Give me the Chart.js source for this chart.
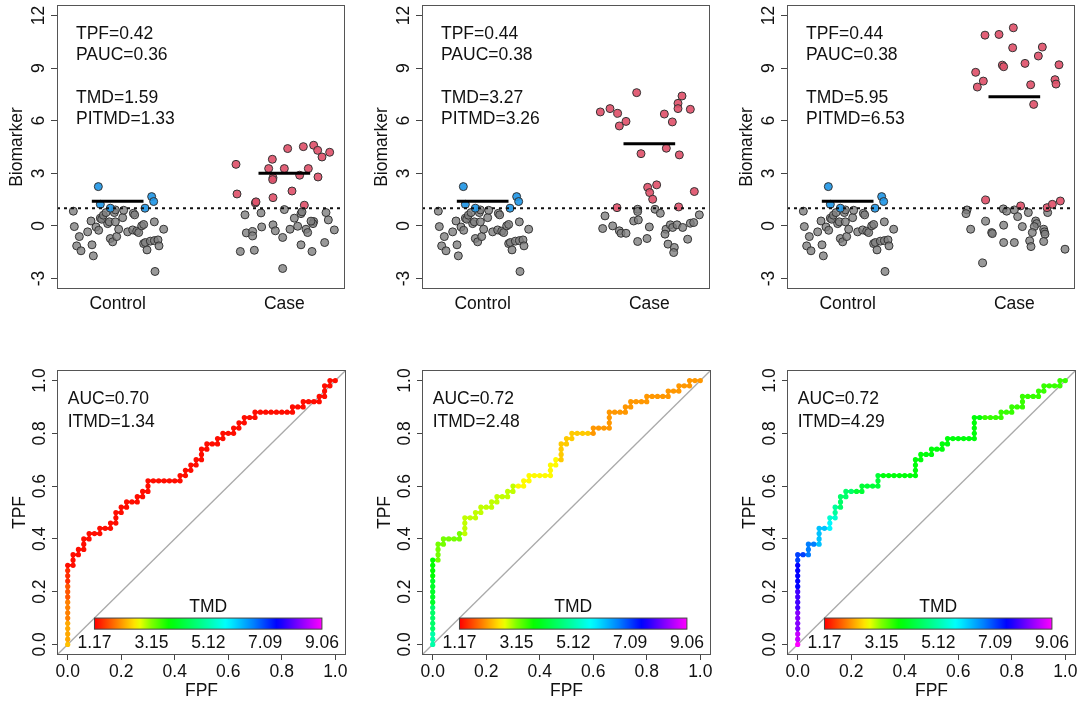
<!DOCTYPE html>
<html>
<head>
<meta charset="utf-8">
<script src="https://cdn.jsdelivr.net/npm/chart.js@4.4.1/dist/chart.umd.min.js"></script>
<style>
  html, body { margin: 0; padding: 0; background: #fff; }
  #wrap { position: relative; width: 1080px; height: 702px; overflow: hidden; background: #fff; }
  #wrap canvas { position: absolute; }
</style>
</head>
<body>
<div id="wrap">
  <canvas id="s1" width="350" height="320" style="left:0;top:0"></canvas>
  <canvas id="s2" width="350" height="320" style="left:365px;top:0"></canvas>
  <canvas id="s3" width="350" height="320" style="left:730px;top:0"></canvas>
  <canvas id="r1" width="350" height="342" style="left:0;top:360px"></canvas>
  <canvas id="r2" width="350" height="342" style="left:365px;top:360px"></canvas>
  <canvas id="r3" width="350" height="342" style="left:730px;top:360px"></canvas>
</div>
<script>
/* ---------- data: strip charts (top row) ---------- */
const groupNames = ['Control', 'Case'];
const groupPos = [1, 2];
const bioTicks = [-3, 0, 3, 6, 9, 12];
const cutoff = 1;
const ctrlMean = 1.41;
const caseMeans = [3.0, 4.69, 7.37];

// control group is the same in all three panels (jittered x, value y)
const ctrlGrayX = [0.734, 0.74, 0.77, 0.754, 0.78, 0.82, 0.84, 0.846, 0.854, 0.87, 0.886, 0.896, 0.904, 0.914, 0.93, 0.94, 0.95, 0.956, 0.97, 0.98, 0.986, 0.986, 0.994, 1.006, 1.03, 1.036, 1.06, 1.09, 1.094, 1.102, 1.114, 1.126, 1.144, 1.156, 1.156, 1.166, 1.176, 1.196, 1.22, 1.224, 1.22, 1.242, 1.248, 1.276];
const ctrlGrayY = [0.84, -0.04, -0.61, -1.14, -1.42, -0.34, 0.28, -1.08, -1.71, -0.06, -0.25, 0.44, 0.38, 0.61, 0.76, 0.13, 0.23, -0.72, -0.91, 0.76, 0.91, 0.23, -0.61, -0.19, 0.47, 0.89, -0.34, -0.23, 0.72, 0.63, -0.30, -0.38, 0.0, 0.08, -1.01, -0.95, -1.37, -0.87, 0.23, -2.60, -0.84, -0.80, -1.14, -0.19];
const ctrlBlueX = [0.884, 0.896, 0.956, 1.164, 1.204, 1.216];
const ctrlBlueY = [2.24, 1.23, 1.01, 1.01, 1.67, 1.39];

const case1RedX = [1.71, 1.716, 1.826, 1.83, 1.928, 1.906, 1.932, 1.93, 1.932, 2.0, 2.02, 2.046, 2.092, 2.114, 2.12, 2.144, 2.176, 2.2, 2.202, 2.226, 2.272];
const case1RedY = [3.51, 1.82, 1.31, 1.37, 3.80, 3.27, 2.75, 2.64, 1.61, 3.27, 4.41, 1.99, 2.89, 4.52, 1.18, 3.27, 4.60, 4.31, 2.79, 3.93, 4.20];
const case1GrayX = [1.764, 1.86, 2.0, 2.10, 2.106, 2.06, 2.25, 2.264, 1.772, 1.81, 1.81, 1.864, 1.932, 1.946, 1.99, 2.034, 2.08, 2.13, 2.14, 2.176, 2.172, 2.30, 1.736, 1.82, 2.10, 2.166, 2.242, 1.99, 2.16];
const case1GrayY = [0.63, 0.74, 0.93, 0.70, 0.80, 0.44, 0.76, 0.34, -0.40, -0.32, -0.57, -0.06, 0.06, -0.28, -0.66, -0.19, -0.02, -0.19, -0.38, 0.25, 0.13, -0.23, -1.46, -1.39, -1.08, -1.46, -0.95, -2.43, 0.27];

const case2RedX = [1.924, 1.706, 1.764, 1.81, 1.82, 1.86, 2.09, 2.138, 2.172, 2.172, 2.196, 2.246, 1.95, 2.102, 2.18, 1.99, 2.002, 2.044, 2.02, 2.27, 1.806, 2.176];
const case2RedY = [7.60, 6.50, 6.69, 6.42, 5.70, 5.96, 6.38, 5.93, 6.99, 6.69, 7.41, 6.65, 4.12, 4.43, 4.05, 2.20, 1.90, 2.34, 1.52, 1.96, 1.04, 1.08];
const case2GrayX = [1.734, 1.72, 1.78, 1.82, 1.83, 1.86, 1.93, 1.93, 1.906, 1.934, 1.93, 1.986, 2.0, 2.034, 2.066, 2.10, 2.094, 2.126, 2.14, 2.166, 2.20, 2.112, 2.15, 2.146, 2.23, 2.246, 2.266, 2.30];
const case2GrayY = [0.57, -0.15, 0.0, -0.28, -0.42, -0.42, 0.95, 0.82, 0.28, 0.34, -0.89, -0.72, -0.06, 0.95, 0.72, -0.19, -0.47, 0.06, -0.09, 0.06, -0.09, -1.04, -1.23, -1.52, -0.76, 0.15, 0.19, 0.63];

const case3RedX = [1.824, 1.908, 1.994, 1.99, 2.168, 2.144, 2.064, 1.928, 1.936, 1.768, 1.814, 1.778, 2.268, 2.098, 2.244, 2.25, 2.116, 1.828, 2.038, 2.196, 2.228, 2.276];
const case3RedY = [10.88, 10.92, 11.30, 10.16, 10.20, 9.69, 9.27, 9.17, 9.08, 8.76, 8.26, 7.92, 9.19, 8.05, 8.34, 8.09, 6.93, 1.48, 1.14, 1.04, 1.23, 1.42];
const case3GrayX = [1.716, 1.71, 1.934, 1.954, 2.0, 2.02, 2.084, 1.828, 1.738, 1.864, 1.868, 1.936, 2.048, 2.128, 2.134, 2.12, 2.108, 2.176, 2.18, 2.184, 1.936, 2.0, 2.092, 2.10, 2.176, 2.20, 2.304, 1.81];
const case3GrayY = [0.91, 0.70, 0.97, 0.84, 0.91, 0.53, 0.76, 0.27, -0.19, -0.38, -0.44, 0.04, -0.04, 0.28, 0.13, -0.04, -0.38, -0.19, -0.34, -0.47, -0.95, -0.95, -0.85, -1.18, -0.89, 0.76, -1.33, -2.11];

const stripNotes = [
  ['TPF=0.42', 'PAUC=0.36', 'TMD=1.59', 'PITMD=1.33'],
  ['TPF=0.44', 'PAUC=0.38', 'TMD=3.27', 'PITMD=3.26'],
  ['TPF=0.44', 'PAUC=0.38', 'TMD=5.95', 'PITMD=6.53']
];

/* ---------- data: ROC curves (bottom row) ---------- */
const rocTicks = [0, 0.2, 0.4, 0.6, 0.8, 1.0];
// TPF reached at each FPF step (FPF = 0, 0.02, ..., 1)
const roc1Tpf = [0.30, 0.34, 0.36, 0.40, 0.42, 0.42, 0.44, 0.44, 0.46, 0.50,
  0.52, 0.54, 0.54, 0.56, 0.58, 0.62, 0.62, 0.62, 0.62, 0.62,
  0.62, 0.64, 0.66, 0.68, 0.70, 0.74, 0.76, 0.76, 0.78, 0.80,
  0.80, 0.82, 0.84, 0.86, 0.86, 0.88, 0.88, 0.88, 0.88, 0.88,
  0.88, 0.88, 0.90, 0.90, 0.92, 0.92, 0.92, 0.94, 0.98, 1.00, 1.00];
const roc2Tpf = [0.32, 0.38, 0.40, 0.40, 0.40, 0.42, 0.48, 0.48, 0.50, 0.52,
  0.52, 0.54, 0.56, 0.56, 0.58, 0.60, 0.60, 0.62, 0.64, 0.64,
  0.64, 0.64, 0.68, 0.70, 0.76, 0.78, 0.80, 0.80, 0.80, 0.80,
  0.82, 0.82, 0.82, 0.88, 0.88, 0.88, 0.90, 0.92, 0.92, 0.92,
  0.94, 0.94, 0.94, 0.94, 0.96, 0.96, 0.98, 0.98, 1.00, 1.00, 1.00];
const roc3Tpf = [0.34, 0.34, 0.38, 0.38, 0.44, 0.44, 0.48, 0.52, 0.56, 0.58,
  0.58, 0.58, 0.60, 0.60, 0.60, 0.64, 0.64, 0.64, 0.64, 0.64,
  0.64, 0.64, 0.70, 0.72, 0.72, 0.74, 0.74, 0.76, 0.78, 0.78,
  0.78, 0.78, 0.78, 0.86, 0.86, 0.86, 0.86, 0.86, 0.88, 0.88,
  0.90, 0.90, 0.94, 0.94, 0.94, 0.96, 0.98, 0.98, 0.98, 1.00, 1.00];
// TMD along each curve, as runs (value, number of points)
const roc1TmdVal = [2.35, 2.2, 1.96, 1.7, 1.45, 1.25];
const roc1TmdLen = [1, 4, 4, 3, 3, 86];
const roc2TmdVal = [5.1, 4.6, 4.1, 3.8, 3.2, 2.9, 2.65, 2.4, 2.1];
const roc2TmdLen = [3, 5, 5, 4, 10, 19, 13, 11, 31];
const roc3TmdVal = [9.06, 8.7, 8.3, 7.9, 7.5, 7.1, 6.7, 6.2, 5.8, 5.4, 5.0, 4.6, 4.2, 3.85, 3.5];
const roc3TmdLen = [1, 2, 4, 4, 5, 3, 4, 5, 2, 2, 2, 6, 8, 30, 23];

const rocNotes = [['AUC=0.70', 'ITMD=1.34'], ['AUC=0.72', 'ITMD=2.48'], ['AUC=0.72', 'ITMD=4.29']];
const cbarLabels = ['1.17', '3.15', '5.12', '7.09', '9.06'];

/* ---------- shared style ---------- */
const FONT = "'Liberation Sans', Arial, Helvetica, sans-serif";
const FS = 17.5;
Chart.defaults.font.family = FONT;
Chart.defaults.font.size = FS;
Chart.defaults.color = '#111';
Chart.defaults.animation = false;
Chart.defaults.events = [];

// rainbow ramp: position along bar -> hue
const rampPos = [0, 0.1, 0.18, 0.25, 0.33, 0.5, 0.6, 0.7, 0.82, 0.9, 1];
const rampHue = [0, 30, 55, 90, 120, 160, 185, 210, 245, 270, 300];
const cbarMin = parseFloat(cbarLabels[0]);
const cbarMax = parseFloat(cbarLabels[cbarLabels.length - 1]);
function hueAt(f) {
  f = Math.max(0, Math.min(1, f));
  for (let i = 1; i < rampPos.length; i++) {
    if (f <= rampPos[i]) {
      const t = (f - rampPos[i - 1]) / (rampPos[i] - rampPos[i - 1]);
      return rampHue[i - 1] + t * (rampHue[i] - rampHue[i - 1]);
    }
  }
  return 300;
}
function tmdColor(v) {
  return 'hsl(' + hueAt((v - cbarMin) / (cbarMax - cbarMin)).toFixed(1) + ',100%,50%)';
}

const boxPlugin = {
  id: 'box',
  afterDraw(chart) {
    const { ctx, chartArea: a } = chart;
    ctx.save();
    ctx.strokeStyle = '#555';
    ctx.lineWidth = 1;
    ctx.strokeRect(Math.round(a.left) + 0.5, Math.round(a.top) + 0.5,
      Math.round(a.right - a.left) - 1, Math.round(a.bottom - a.top) - 1);
    ctx.restore();
  }
};

const notesPlugin = {
  id: 'notes',
  afterDatasetsDraw(chart, args, opts) {
    const { ctx, scales: { x, y } } = chart;
    ctx.save();
    ctx.font = FS + 'px ' + FONT;
    ctx.fillStyle = '#111';
    ctx.textAlign = 'left';
    ctx.textBaseline = 'middle';
    opts.lines.forEach((t, i) => {
      ctx.fillText(t, x.getPixelForValue(opts.x), y.getPixelForValue(opts.ys[i]));
    });
    ctx.restore();
  }
};

const colorbarPlugin = {
  id: 'colorbar',
  afterDatasetsDraw(chart) {
    const { ctx, scales: { x, y } } = chart;
    const x0 = x.getPixelForValue(0.1), x1 = x.getPixelForValue(0.95);
    const yt = y.getPixelForValue(0.1), yb = y.getPixelForValue(0.058);
    ctx.save();
    const g = ctx.createLinearGradient(x0, 0, x1, 0);
    for (let i = 0; i <= 40; i++) g.addColorStop(i / 40, 'hsl(' + hueAt(i / 40).toFixed(1) + ',100%,50%)');
    ctx.fillStyle = g;
    ctx.fillRect(x0, yt, x1 - x0, yb - yt);
    ctx.strokeStyle = '#444';
    ctx.lineWidth = 1;
    ctx.strokeRect(x0, yt, x1 - x0, yb - yt);
    ctx.fillStyle = '#111';
    ctx.font = FS + 'px ' + FONT;
    ctx.textAlign = 'center';
    ctx.textBaseline = 'middle';
    ctx.fillText('TMD', (x0 + x1) / 2, y.getPixelForValue(0.142));
    cbarLabels.forEach(t => {
      const f = (parseFloat(t) - cbarMin) / (cbarMax - cbarMin);
      ctx.fillText(t, x0 + f * (x1 - x0), y.getPixelForValue(0.006));
    });
    ctx.restore();
  }
};

function yAxis(min, max, ticks, fmt, title, titlePad, tickLen, tickPad) {
  return {
    type: 'linear', min, max, bounds: 'data',
    afterBuildTicks: s => { s.ticks = ticks.map(v => ({ value: v })); },
    afterFit: s => { s.width = 57; s.paddingTop = 0; s.paddingBottom = 0; },
    ticks: { callback: (v, i) => fmt(ticks[i]), minRotation: 90, maxRotation: 90, crossAlign: 'center', padding: tickPad, autoSkip: false },
    grid: { drawOnChartArea: false, drawTicks: true, tickLength: tickLen, color: '#444' },
    border: { display: false },
    title: { display: true, text: title, padding: { top: titlePad, bottom: 0 } }
  };
}

/* ---------- strip charts ---------- */
const stripRed = [[case1RedX, case1RedY], [case2RedX, case2RedY], [case3RedX, case3RedY]];
const stripGray = [[case1GrayX, case1GrayY], [case2GrayX, case2GrayY], [case3GrayX, case3GrayY]];
const X_MIN = 0.636, X_MAX = 2.364;

function pts(xs, ys) { return xs.map((x, k) => ({ x, y: ys[k] })); }
function dots(data, fill) {
  return { data, pointRadius: 4, pointBorderWidth: 1, pointBorderColor: '#333', pointBackgroundColor: fill };
}
function seg(c, v) { return { data: [{ x: c - 0.155, y: v }, { x: c + 0.155, y: v }], showLine: true, borderColor: '#000', borderWidth: 3, pointRadius: 0 }; }

function stripChart(id, i) {
  new Chart(document.getElementById(id), {
    type: 'scatter',
    data: {
      datasets: [
        seg(groupPos[0], ctrlMean),
        seg(groupPos[1], caseMeans[i]),
        { data: [{ x: X_MIN, y: cutoff }, { x: X_MAX, y: cutoff }], showLine: true, borderColor: '#111', borderWidth: 2, borderDash: [3, 4], pointRadius: 0 },
        dots(pts(stripRed[i][0], stripRed[i][1]), 'rgba(223,83,107,0.92)'),
        dots(pts(ctrlBlueX, ctrlBlueY), 'rgba(34,151,230,0.92)'),
        dots(pts(stripGray[i][0], stripGray[i][1]), 'rgba(128,128,128,0.8)'),
        dots(pts(ctrlGrayX, ctrlGrayY), 'rgba(128,128,128,0.8)')
      ]
    },
    options: {
      responsive: false,
      devicePixelRatio: 1,
      layout: { padding: { left: 0, top: 5, right: 3, bottom: 0 } },
      plugins: {
        legend: { display: false }, tooltip: { enabled: false },
        notes: { lines: stripNotes[i], x: 0.75, ys: [10.95, 9.74, 7.3, 6.1] }
      },
      scales: {
        x: {
          type: 'linear', min: X_MIN, max: X_MAX, bounds: 'data',
          afterBuildTicks: s => { s.ticks = groupPos.map(v => ({ value: v })); },
          afterFit: s => { s.height = 31; s.paddingLeft = 0; s.paddingRight = 0; },
          ticks: { callback: (v, k) => groupNames[k], maxRotation: 0, autoSkip: false, padding: -3 },
          grid: { display: false },
          border: { display: false }
        },
        y: yAxis(-3.6, 12.6, bioTicks, v => String(v), 'Biomarker', 6.5, 6, 2)
      }
    },
    plugins: [boxPlugin, notesPlugin]
  });
}

/* ---------- ROC charts ---------- */
function rocPoints(tpf) {
  const out = [];
  const n = tpf.length - 1;
  let prev = 0;
  tpf.forEach((t, k) => {
    for (let j = Math.round(prev * n); j <= Math.round(t * n); j++) out.push({ x: k / n, y: j / n });
    prev = t;
  });
  return out;
}
function runs(vals, lens, n) {
  const out = [];
  vals.forEach((v, i) => { for (let k = 0; k < lens[i]; k++) out.push(v); });
  while (out.length < n) out.push(vals[vals.length - 1]);
  return out.slice(0, n);
}

function rocChart(id, tpf, tmdVal, tmdLen, i) {
  const data = rocPoints(tpf);
  const cols = runs(tmdVal, tmdLen, data.length).map(tmdColor);
  new Chart(document.getElementById(id), {
    type: 'scatter',
    data: {
      datasets: [
        {
          data, showLine: true, borderWidth: 2.6, pointRadius: 2.6, pointBorderWidth: 0,
          pointBackgroundColor: cols,
          segment: { borderColor: c => cols[c.p1DataIndex] }
        },
        { data: [{ x: -0.04, y: -0.04 }, { x: 1.04, y: 1.04 }], showLine: true, borderColor: '#aaa', borderWidth: 1.3, pointRadius: 0 }
      ]
    },
    options: {
      responsive: false,
      devicePixelRatio: 1,
      layout: { padding: { left: 0, top: 10, right: 3, bottom: 0 } },
      plugins: {
        legend: { display: false }, tooltip: { enabled: false },
        notes: { lines: rocNotes[i], x: 0, ys: [0.929, 0.844] }
      },
      scales: {
        x: {
          type: 'linear', min: -0.04, max: 1.04, bounds: 'data',
          afterBuildTicks: s => { s.ticks = rocTicks.map(v => ({ value: v })); },
          afterFit: s => { s.height = 47; s.paddingLeft = 0; s.paddingRight = 0; },
          ticks: { callback: (v, k) => rocTicks[k].toFixed(1), maxRotation: 0, autoSkip: false, padding: 2 },
          grid: { drawOnChartArea: false, drawTicks: true, tickLength: 5, color: '#444' },
          border: { display: false },
          title: { display: true, text: 'FPF', padding: { top: 0, bottom: 0 } }
        },
        y: yAxis(-0.04, 1.04, rocTicks, v => v.toFixed(1), 'TPF', 9.5, 5, 0)
      }
    },
    plugins: [boxPlugin, notesPlugin, colorbarPlugin]
  });
}

stripChart('s1', 0);
stripChart('s2', 1);
stripChart('s3', 2);
rocChart('r1', roc1Tpf, roc1TmdVal, roc1TmdLen, 0);
rocChart('r2', roc2Tpf, roc2TmdVal, roc2TmdLen, 1);
rocChart('r3', roc3Tpf, roc3TmdVal, roc3TmdLen, 2);
</script>
</body>
</html>
